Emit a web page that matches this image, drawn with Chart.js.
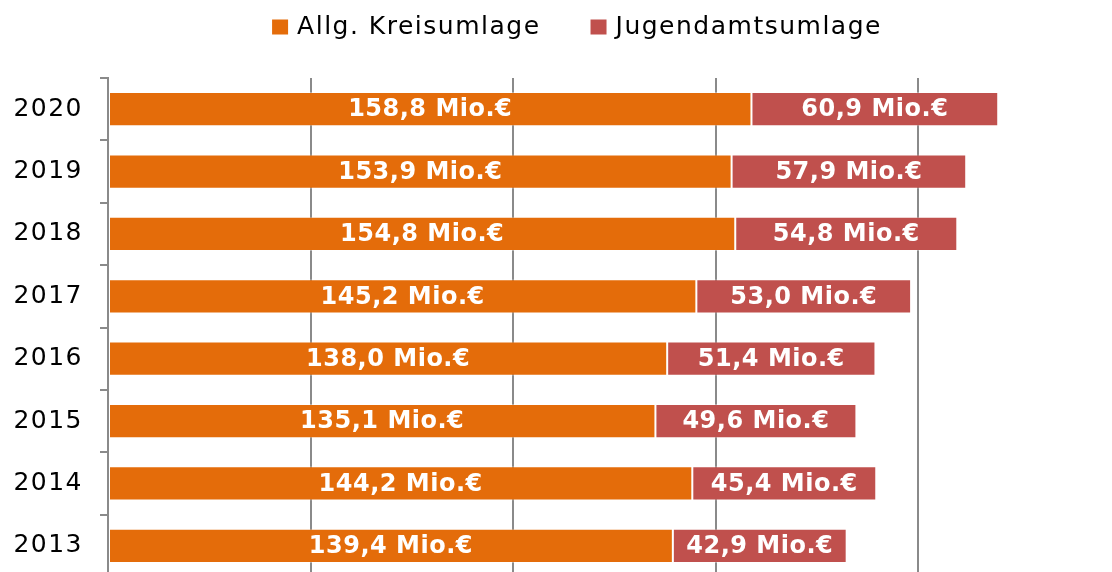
<!DOCTYPE html>
<html>
<head>
<meta charset="utf-8">
<script src="https://cdn.jsdelivr.net/npm/chart.js@4/dist/chart.umd.min.js"></script>
<style>
  html, body { margin: 0; padding: 0; overflow: hidden; background: #fff; }
  #wrap { position: relative; width: 1121px; height: 577px; }
</style>
</head>
<body>
<div id="wrap"><canvas id="umlage"></canvas></div>
<script>
const years = ['2020', '2019', '2018', '2017', '2016', '2015', '2014', '2013'];
const kreisumlage = [158.8, 153.9, 154.8, 145.2, 138.0, 135.1, 144.2, 139.4];
const jugendamtsumlage = [60.9, 57.9, 54.8, 53.0, 51.4, 49.6, 45.4, 42.9];
const seriesNames = ['Allg. Kreisumlage', 'Jugendamtsumlage'];
const seriesColors = ['#E46C0A', '#C0504D'];

const gridGrey = '#8a8a8a';

// value labels in the middle of each bar piece
const barLabels = {
  id: 'barLabels',
  afterDatasetsDraw(chart) {
    const ctx = chart.ctx;
    ctx.save();
    ctx.font = 'bold 24px "DejaVu Sans"';
    ctx.letterSpacing = '0.5px';
    ctx.fillStyle = '#fff';
    ctx.textAlign = 'center';
    ctx.textBaseline = 'middle';
    chart.data.datasets.forEach(function(ds, i) {
      chart.getDatasetMeta(i).data.forEach(function(bar, j) {
        const txt = ds.data[j].toFixed(1).replace('.', ',') + ' Mio.€';
        ctx.fillText(txt, (bar.x + bar.base) / 2, bar.y + 1);
      });
    });
    ctx.restore();
  }
};

// legend drawn by hand, the built-in one can't do the wide gap
const topLegend = {
  id: 'topLegend',
  afterDraw(chart) {
    const ctx = chart.ctx;
    ctx.save();
    ctx.font = '25px "DejaVu Sans"';
    ctx.letterSpacing = '1.5px';
    ctx.textBaseline = 'middle';
    const box = 16, boxGap = 9, itemGap = 50;
    const widths = seriesNames.map(function(n) { return ctx.measureText(n).width; });
    let total = 0;
    widths.forEach(function(w, i) { total += box + boxGap + w + (i > 0 ? itemGap : 0); });
    let x = 577 - total / 2;
    const y = 27;
    seriesNames.forEach(function(n, i) {
      ctx.fillStyle = seriesColors[i];
      ctx.fillRect(x, y - 7.5, box, 15);
      ctx.fillStyle = '#000';
      ctx.fillText(n, x + box + boxGap, y);
      x += box + boxGap + widths[i] + itemGap;
    });
    ctx.restore();
  }
};

const spacing = {
  id: 'spacing',
  beforeDraw(chart) {
    chart.ctx.letterSpacing = '1.5px';
  }
};

new Chart(document.getElementById('umlage'), {
  type: 'bar',
  data: {
    labels: years,
    datasets: [{
      label: seriesNames[0],
      data: kreisumlage,
      backgroundColor: seriesColors[0],
      borderColor: 'rgba(255,255,255,0.35)',
      borderWidth: 1,
      borderSkipped: false
    }, {
      label: seriesNames[1],
      data: jugendamtsumlage,
      backgroundColor: seriesColors[1],
      borderColor: 'rgba(255,255,255,0.35)',
      borderWidth: 1,
      borderSkipped: false
    }]
  },
  plugins: [spacing, barLabels, topLegend],
  options: {
    indexAxis: 'y',
    responsive: true,
    maintainAspectRatio: false,
    animation: false,
    devicePixelRatio: 1,
    layout: { padding: { top: 78, right: 0, bottom: 0, left: 0 } },
    datasets: {
      bar: { categoryPercentage: 1, barPercentage: 0.55 }
    },
    plugins: {
      legend: { display: false },
      tooltip: { enabled: false }
    },
    scales: {
      x: {
        stacked: true,
        min: 0,
        max: 250,
        afterFit: function(scale) { scale.height = 0; },
        ticks: { display: false, stepSize: 50 },
        grid: { color: gridGrey, lineWidth: 2, drawTicks: false },
        border: { display: false }
      },
      y: {
        stacked: true,
        afterFit: function(scale) {
          scale.width = 108;
          scale.paddingTop = 0;
          scale.paddingBottom = 0;
        },
        ticks: {
          color: '#000',
          padding: 17,
          font: { family: 'DejaVu Sans', size: 25 }
        },
        grid: { drawOnChartArea: false, drawTicks: true, tickLength: 8, color: gridGrey, lineWidth: 2 },
        border: { color: gridGrey, width: 2 }
      }
    }
  }
});
</script>
</body>
</html>
